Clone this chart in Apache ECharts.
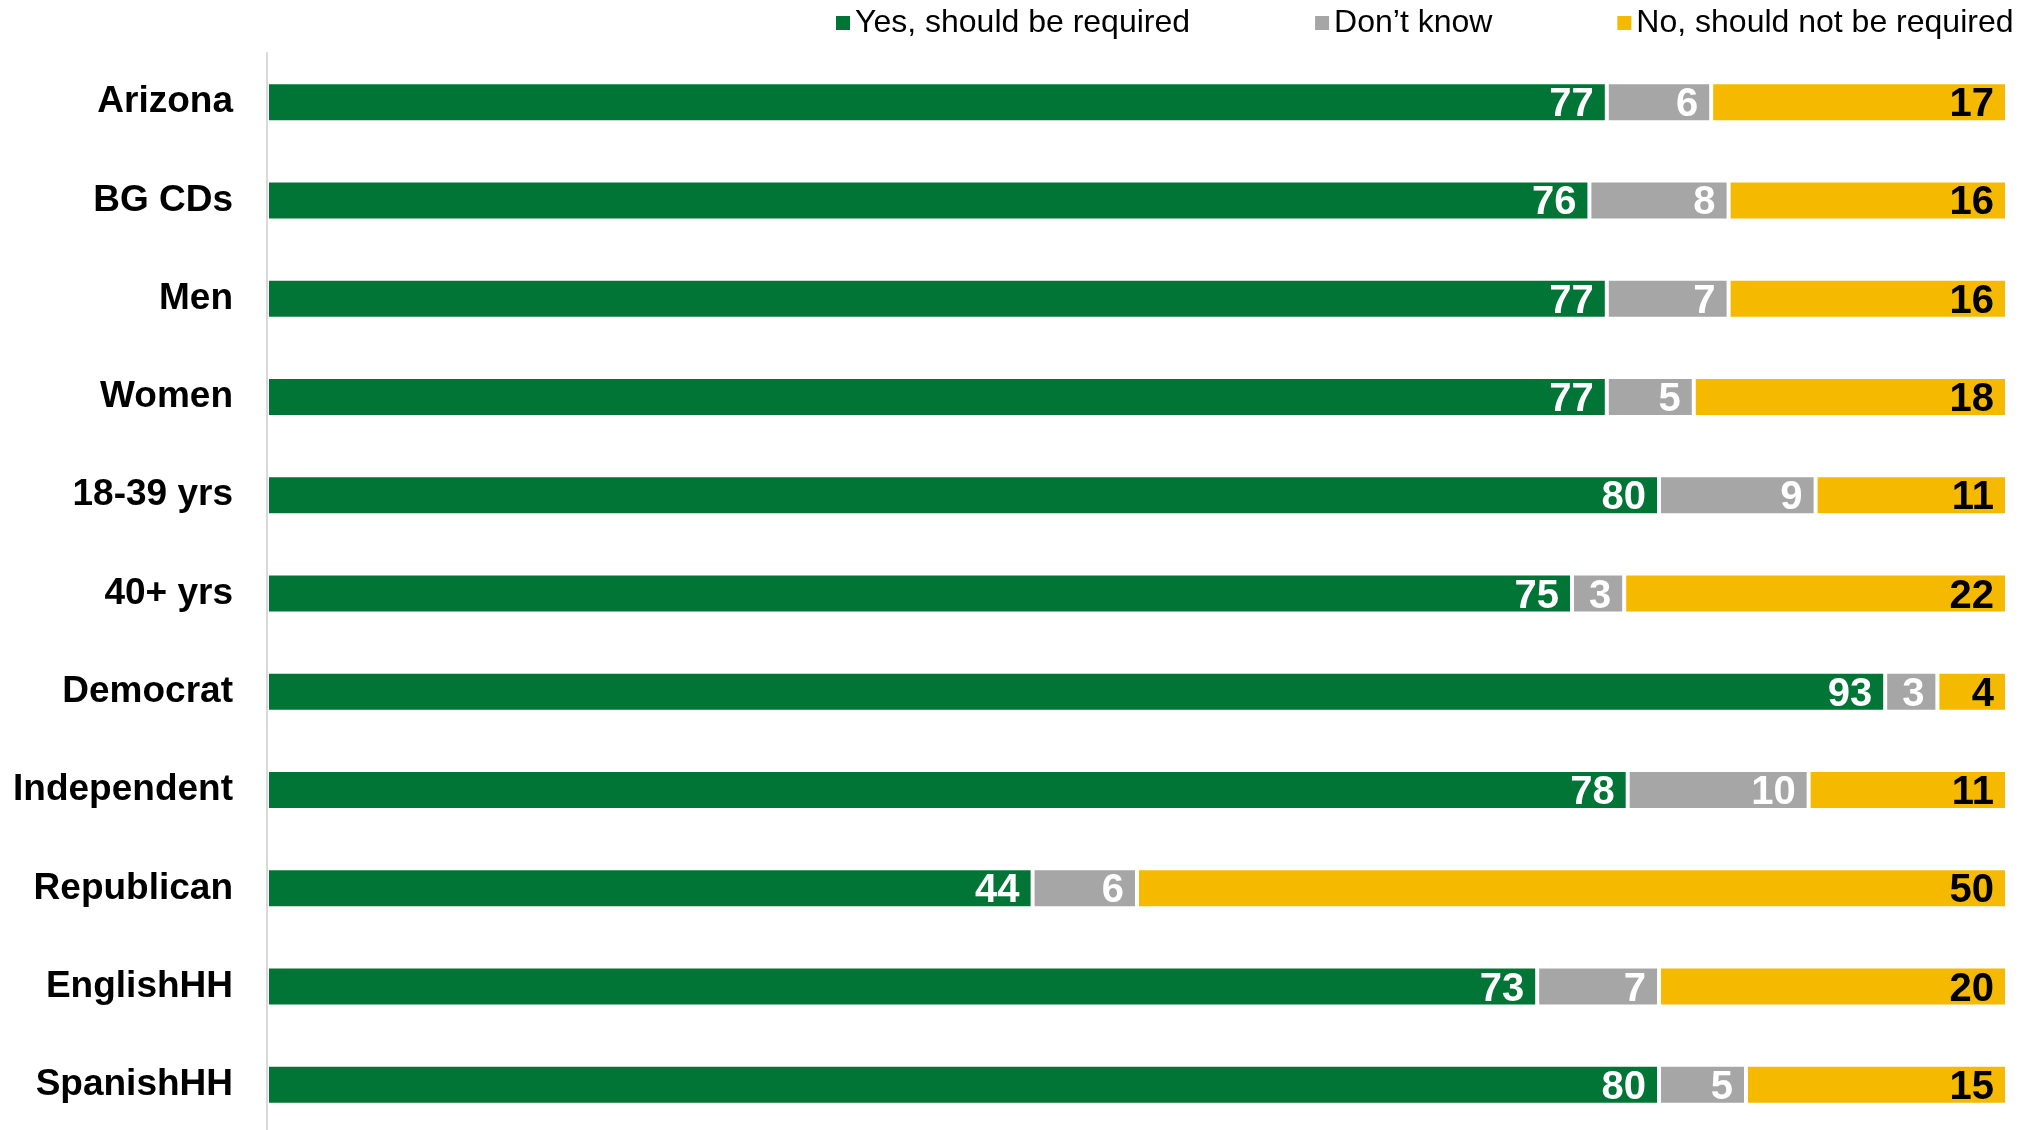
<!DOCTYPE html>
<html>
<head>
<meta charset="utf-8">
<script src="https://cdn.jsdelivr.net/npm/echarts@6/dist/echarts.min.js"></script>
<style>
html,body{margin:0;padding:0;background:#fff;}
#chart{width:2030px;height:1130px;}
</style>
</head>
<body>
<div id="chart"></div>
<script>
const categories = ['Arizona','BG CDs','Men','Women','18-39 yrs','40+ yrs','Democrat','Independent','Republican','EnglishHH','SpanishHH'];
const seriesNames = ['Yes, should be required','Don\u2019t know','No, should not be required'];
// shares (labels show rounded values)
const yesValues = [77,76,77,77,80,75,93,78.2,44,73,80];
const dkValues  = [6,8,7,5,9,3,3,10.4,6,7,5];
const noValues  = [17,16,16,18,11,22,4,11.4,50,20,15];

const colors = ['#007536','#A6A6A6','#F5B900'];
const labelColors = ['#ffffff','#ffffff','#000000'];
const FONT = '"Liberation Sans", Arial, sans-serif';

const chart = echarts.init(document.getElementById('chart'), null, {renderer:'canvas'});

function mkSeries(i, data){
  return {
    name: seriesNames[i],
    type: 'bar',
    stack: 'total',
    data: data,
    barWidth: 40,
    itemStyle: {color: colors[i], borderColor:'#ffffff', borderWidth:2},
    label: {
      show: true,
      position: 'insideRight',
      distance: 13,
      offset: [0, 3],
      color: labelColors[i],
      fontFamily: FONT,
      fontWeight: 'bold',
      fontSize: 40,
      formatter: p => String(Math.round(p.value))
    },
    emphasis: {disabled: true}
  };
}

chart.setOption({
  animation: false,
  backgroundColor: '#ffffff',
  color: colors,
  legend: {
    left: 831,
    top: 2,
    itemWidth: 14,
    itemHeight: 14,
    itemGap: 125,
    icon: 'rect',
    itemStyle: {borderWidth: 0},
    textStyle: {fontFamily: FONT, fontSize: 32, color: '#000'},
    data: seriesNames
  },
  grid: {left: 267, top: 53, width: 1740, height: 1081, outerBoundsMode: 'none'},
  xAxis: {
    type: 'value', min: 0, max: 100, show: false
  },
  yAxis: {
    type: 'category',
    data: categories,
    inverse: true,
    z: 3,
    axisLine: {show: true, lineStyle: {color: '#D9D9D9', width: 2}},
    axisTick: {show: false},
    axisLabel: {fontFamily: FONT, fontWeight: 'bold', fontSize: 37, color: '#000', margin: 34},
    splitLine: {show: false}
  },
  series: [mkSeries(0, yesValues), mkSeries(1, dkValues), mkSeries(2, noValues)]
});
</script>
</body>
</html>
